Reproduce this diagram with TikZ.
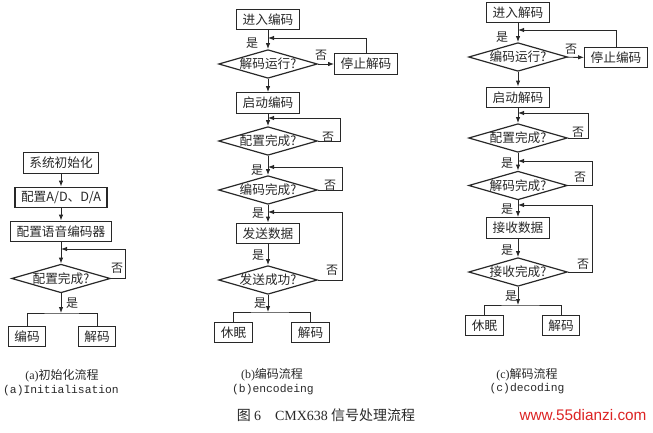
\documentclass[tikz,border=0pt]{standalone}
\usepackage{fontspec}
\setmainfont{Liberation Serif}
\newfontfamily\cjk{Noto Sans CJK SC}
\newfontfamily\capmono{Liberation Mono}
\newfontfamily\wmfont{Liberation Sans}
\usetikzlibrary{arrows.meta,shapes.geometric}
\definecolor{ink}{RGB}{40,40,40}
\definecolor{wmred}{RGB}{220,35,35}

\begin{document}
\begin{tikzpicture}[x=0.75pt,y=-0.75pt,
  >={Latex[length=4.5pt,width=3.4pt]},
  line width=0.7pt,
  box/.style={draw=ink,line width=0.9pt,font=\cjk\fontsize{9.5}{11}\selectfont,text=ink,
    minimum height=15.5pt,inner xsep=4.5pt,inner ysep=0pt},
  decide/.style={draw=ink,line width=0.9pt,diamond,shape aspect=3.44,inner sep=-1.5pt,
    minimum width=74pt,minimum height=21.5pt,font=\cjk\fontsize{9.5}{11}\selectfont,text=ink},
  lab/.style={font=\cjk\fontsize{9}{10}\selectfont,text=ink,inner sep=0pt},
  flow/.style={->,draw=ink},
  capcn/.style={font=\cjk\fontsize{9}{10}\selectfont,text=ink},
  capen/.style={font=\capmono\fontsize{8.5}{10}\selectfont,text=ink}]
\useasboundingbox (0,0) rectangle (653,432);

% (a) initialisation
\node[box] (init) at (61,163){系统初始化};
\node[box] (adda) at (61,197.5){配置A/D、D/A};
\node[box] (vocoder) at (61,231.5){配置语音编码器};
\node[decide] (cfgA) at (61,278.5){配置完成?};
\node[box] (encA) at (27,336.5){编码};
\node[box] (decA) at (97,336.5){解码};
\coordinate (jA) at (61,249);
\coordinate (rA) at (125,249);
\coordinate (bA) at (61,313);
\draw[flow] (init) -- (adda);
\draw[flow] (adda) -- (vocoder);
\draw[flow] (vocoder) -- (cfgA);
\draw[flow] (cfgA.east) -| (rA) -- (jA);
\draw[flow] (cfgA) -- (bA);
\draw[ink] (encA.north) |- (bA) -| (decA.north);
\node[lab] at (117,268){否};
\node[lab] at (72,303){是};

% (b) encoding
\node[box] (enterEnc) at (268,19.5){进入编码};
\node[decide] (decRun) at (268,64){解码运行?};
\node[box] (stopDec) at (366,64){停止解码};
\node[box] (startEnc) at (268,103){启动编码};
\node[decide] (cfgB) at (268,141){配置完成?};
\node[decide] (encDone) at (268,190){编码完成?};
\node[box] (sendData) at (268,233.5){发送数据};
\node[decide] (sendOk) at (268,280){发送成功?};
\node[box] (sleepB) at (233.5,332.5){休眠};
\node[box] (decB) at (310.5,332.5){解码};
\coordinate (jB1) at (268,38);
\coordinate (jB2) at (268,118);
\coordinate (rB2) at (340,118);
\coordinate (jB3) at (268,167);
\coordinate (rB3) at (342,167);
\coordinate (jB4) at (268,212);
\coordinate (rB4) at (342,212);
\coordinate (bB) at (268,312);
\draw[flow] (enterEnc) -- (decRun);
\draw[flow] (decRun) -- (stopDec);
\draw[flow] (stopDec.north) |- (jB1);
\draw[flow] (decRun) -- (startEnc);
\draw[flow] (startEnc) -- (cfgB);
\draw[flow] (cfgB.east) -| (rB2) -- (jB2);
\draw[flow] (cfgB) -- (encDone);
\draw[flow] (encDone.east) -| (rB3) -- (jB3);
\draw[flow] (encDone) -- (sendData);
\draw[flow] (sendData) -- (sendOk);
\draw[flow] (sendOk.east) -| (rB4) -- (jB4);
\draw[flow] (sendOk) -- (bB);
\draw[ink] (sleepB.north) |- (bB) -| (decB.north);
\node[lab] at (252,43){是};
\node[lab] at (321,55){否};
\node[lab] at (328,137){否};
\node[lab] at (257,170){是};
\node[lab] at (330,185){否};
\node[lab] at (258,213){是};
\node[lab] at (258,255){是};
\node[lab] at (332,270){否};
\node[lab] at (260,303){是};

% (c) decoding
\node[box] (enterDec) at (518,12.5){进入解码};
\node[decide] (encRun) at (518,57){编码运行?};
\node[box] (stopEnc) at (616,57.5){停止编码};
\node[box] (startDec) at (518,97.5){启动解码};
\node[decide] (cfgC) at (518,138){配置完成?};
\node[decide] (decDone) at (518,185.5){解码完成?};
\node[box] (recvData) at (518,228){接收数据};
\node[decide] (recvOk) at (518,272){接收完成?};
\node[box] (sleepC) at (484.5,325.5){休眠};
\node[box] (decC) at (561,325.5){解码};
\coordinate (jC1) at (518,30);
\coordinate (jC2) at (518,113);
\coordinate (rC2) at (588,113);
\coordinate (jC3) at (518,161);
\coordinate (rC3) at (592,161);
\coordinate (jC4) at (518,205);
\coordinate (rC4) at (592,205);
\coordinate (bC) at (518,305);
\draw[flow] (enterDec) -- (encRun);
\draw[flow] (encRun) -- (stopEnc);
\draw[flow] (stopEnc.north) |- (jC1);
\draw[flow] (encRun) -- (startDec);
\draw[flow] (startDec) -- (cfgC);
\draw[flow] (cfgC.east) -| (rC2) -- (jC2);
\draw[flow] (cfgC) -- (decDone);
\draw[flow] (decDone.east) -| (rC3) -- (jC3);
\draw[flow] (decDone) -- (recvData);
\draw[flow] (recvData) -- (recvOk);
\draw[flow] (recvOk.east) -| (rC4) -- (jC4);
\draw[flow] (recvOk) -- (bC);
\draw[ink] (sleepC.north) |- (bC) -| (decC.north);
\node[lab] at (502,37){是};
\node[lab] at (571,49){否};
\node[lab] at (578,132){否};
\node[lab] at (507,163){是};
\node[lab] at (580,177){否};
\node[lab] at (507,209){是};
\node[lab] at (507,250){是};
\node[lab] at (583,264){否};
\node[lab] at (511,296){是};

% captions
\node[capcn] (capA) at (62,376){{\rmfamily (a)}初始化流程};
\node[capen] (capAen) at (61,391){(a)Initialisation};
\node[capcn] (capB) at (272,375){{\rmfamily (b)}编码流程};
\node[capen] (capBen) at (273,390){(b)encodeing};
\node[capcn] (capC) at (527,375){{\rmfamily (c)}解码流程};
\node[capen] (capCen) at (527,389){(c)decoding};
\node[font=\cjk\fontsize{10.5}{12}\selectfont,text=ink] (title) at (326,415)
  {图 {\rmfamily 6}\quad{\rmfamily CMX638} 信号处理流程};
\node[font=\wmfont\fontsize{11.5}{13}\selectfont,text=wmred] (wm) at (583,415){www.55dianzi.com};
\end{tikzpicture}
\end{document}
